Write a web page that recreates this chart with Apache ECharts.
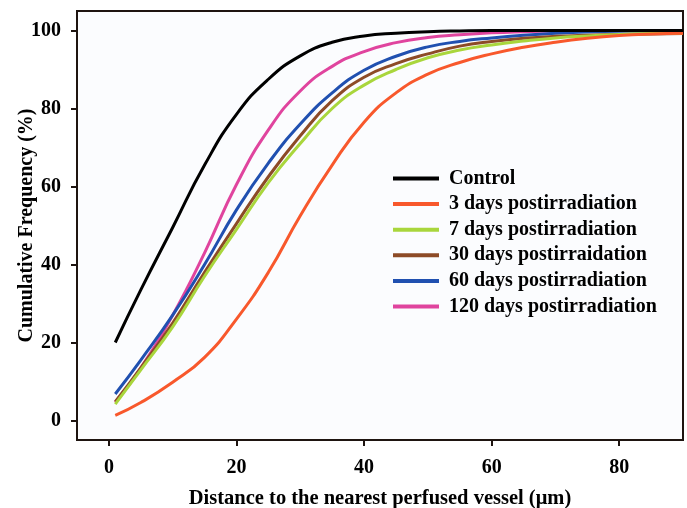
<!DOCTYPE html>
<html>
<head>
<meta charset="utf-8">
<script src="https://cdn.jsdelivr.net/npm/echarts@6/dist/echarts.min.js"></script>
<style>
html,body{margin:0;padding:0;background:#ffffff;}
#chart{width:687px;height:508px;}
</style>
</head>
<body>
<div id="chart"></div>
<script>
// Distance (µm) sample points
var distances = [1, 5, 10, 15, 20, 25, 30, 35, 40, 45, 50, 55, 60, 65, 70, 75, 80, 85, 90];
var control  = [20, 33.5, 49.5, 65.5, 78.5, 87.5, 93.5, 97, 98.6, 99.3, 99.7, 99.9, 100, 100, 100, 100, 100, 100, 100];
var days3    = [1.3, 4.6, 9.8, 16.2, 26, 38, 52.5, 65.5, 76.5, 84, 88.8, 91.8, 94, 95.7, 97, 98, 98.7, 99.1, 99.3];
var days7    = [4.2, 13, 24, 37, 49, 61, 71, 80, 86, 90, 93, 95, 96.3, 97.3, 98.1, 98.6, 99, 99.2, 99.3];
var days30   = [4.8, 13.5, 25, 38, 50.5, 62.5, 73, 82, 88, 91.5, 94, 96, 97.2, 98, 98.5, 98.8, 99, 99.1, 99.2];
var days60   = [6.8, 15.5, 27, 40, 54, 66, 76, 84, 89.8, 93.4, 95.8, 97.2, 98.1, 98.8, 99.3, 99.6, 99.8, 99.9, 100];
var days120  = [4.6, 13.5, 27, 43, 60.5, 74.5, 84.5, 90.8, 94.6, 96.9, 98.2, 98.9, 99.4, 99.7, 99.9, 100, 100, 100, 100];

var seriesNames = ['Control', '3 days postirradiation', '7 days postirradiation', '30 days postirraidation', '60 days postirradiation', '120 days postirradiation'];
var seriesValues = [control, days3, days7, days30, days60, days120];
var seriesColors = ['#000000', '#f8582c', '#a9d63c', '#8d4b27', '#2050b0', '#e0449e'];

var xTicks = [0, 20, 40, 60, 80];
var yTicks = [0, 20, 40, 60, 80, 100];

var FONT = '"Liberation Serif", "Times New Roman", serif';

function pairs(vals) {
  return distances.map(function (d, i) { return [d, vals[i]]; });
}

var series = seriesNames.map(function (name, i) {
  return {
    name: name,
    type: 'line',
    data: pairs(seriesValues[i]),
    smooth: 0.5,
    showSymbol: false,
    symbol: 'none',
    lineStyle: { color: seriesColors[i], width: 3 },
    itemStyle: { color: seriesColors[i] },
    z: 10 - i
  };
});

var chart = echarts.init(document.getElementById('chart'), null, { renderer: 'canvas' });
chart.setOption({
  backgroundColor: '#ffffff',
  animation: false,
  grid: {
    left: 77, right: 4, top: 11, bottom: 68,
    outerBoundsMode: 'none',
    containLabel: false,
    show: true,
    borderColor: '#1e1410',
    borderWidth: 2,
    backgroundColor: '#fbfcfe'
  },
  legend: {
    orient: 'vertical',
    left: 388,
    top: 163,
    itemWidth: 46,
    itemHeight: 4,
    itemGap: 4.6,
    icon: 'rect',
    data: seriesNames,
    textStyle: {
      fontFamily: FONT,
      fontWeight: 'bold',
      fontSize: 20,
      color: '#000',
      lineHeight: 21,
      padding: [0, 0, 0, 5]
    }
  },
  xAxis: {
    type: 'value',
    min: -5,
    max: 90,
    name: 'Distance to the nearest perfused vessel (\u03bcm)',
    nameLocation: 'middle',
    nameGap: 48,
    nameMoveOverlap: false,
    nameTextStyle: { fontFamily: FONT, fontWeight: 'bold', fontSize: 20.5, color: '#000' },
    splitLine: { show: false },
    axisLine: { show: true, onZero: false, lineStyle: { color: '#1e1410', width: 2 } },
    axisTick: { show: true, length: 6, customValues: xTicks, lineStyle: { color: '#1e1410', width: 2 } },
    axisLabel: { customValues: xTicks, margin: 18, fontFamily: FONT, fontWeight: 'bold', fontSize: 20, color: '#000' }
  },
  yAxis: {
    type: 'value',
    min: -5,
    max: 105,
    name: 'Cumulative Frequency (%)',
    nameLocation: 'middle',
    nameGap: 40,
    nameMoveOverlap: false,
    nameRotate: 90,
    nameTextStyle: { fontFamily: FONT, fontWeight: 'bold', fontSize: 20, color: '#000' },
    splitLine: { show: false },
    axisLine: { show: true, onZero: false, lineStyle: { color: '#1e1410', width: 2 } },
    axisTick: { show: true, length: 6, customValues: yTicks, lineStyle: { color: '#1e1410', width: 2 } },
    axisLabel: { customValues: yTicks, margin: 16, fontFamily: FONT, fontWeight: 'bold', fontSize: 20, color: '#000' }
  },
  series: series
});
</script>
</body>
</html>
